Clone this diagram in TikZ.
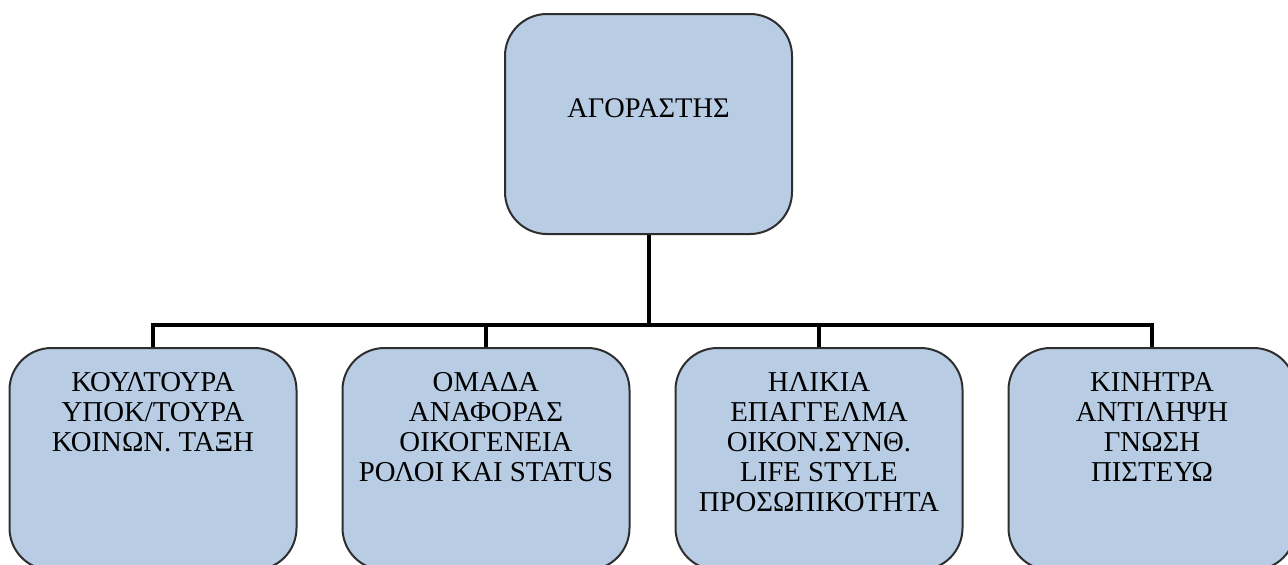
\documentclass[tikz,border=0pt]{standalone}
\usepackage{fontspec}
\setmainfont{Liberation Serif}
\usepackage{xcolor}
\definecolor{boxblue}{HTML}{B8CCE4}
\definecolor{edge}{HTML}{2E2E2E}
\usetikzlibrary{positioning}
\newcommand{\toplines}[1]{\begin{tabular}[t]{@{}c@{}}#1\end{tabular}}
\tikzset{
  box/.style={draw=edge,fill=boxblue,rounded corners=21pt,line width=1pt,
    font=\fontsize{14.4}{15}\selectfont,minimum width=143.5pt,inner xsep=2pt,inner ysep=3pt},
  head/.style={box,anchor=north,font=\fontsize{14.2}{15}\selectfont,text height=48.6pt,text depth=55.4pt},
  leaf/.style={box,anchor=north,text height=18.6pt,text depth=86.4pt},
  tree/.style={draw=black,line width=2pt},
}
\begin{document}
\begin{tikzpicture}[node distance=5mm and 22pt]
  \fill[white] (0,0) rectangle (644pt,-282pt);
  \useasboundingbox (0,0) rectangle (644pt,-282pt);
  \node[head] (buyer) at (324.25pt,-6.5pt) {ΑΓΟΡΑΣΤΗΣ};
  \node[leaf] (culture) at (76.5pt,-173.5pt) {\toplines{ΚΟΥΛΤΟΥΡΑ\\ΥΠΟΚ/ΤΟΥΡΑ\\ΚΟΙΝΩΝ. ΤΑΞΗ}};
  \node[leaf,right=of culture] (group) {\toplines{ΟΜΑΔΑ\\ΑΝΑΦΟΡΑΣ\\ΟΙΚΟΓΕΝΕΙΑ\\ΡΟΛΟΙ ΚΑΙ STATUS}};
  \node[leaf,right=of group] (person) {\toplines{ΗΛΙΚΙΑ\\ΕΠΑΓΓΕΛΜΑ\\ΟΙΚΟΝ.ΣΥΝΘ.\\LIFE STYLE\\ΠΡΟΣΩΠΙΚΟΤΗΤΑ}};
  \node[leaf,right=of person] (psych) {\toplines{ΚΙΝΗΤΡΑ\\ΑΝΤΙΛΗΨΗ\\ΓΝΩΣΗ\\ΠΙΣΤΕΥΩ}};
  \draw[tree] (buyer.south) -- ++(0,-45pt) coordinate (bus);
  \draw[tree] (culture.north) |- (bus) -| (psych.north);
  \draw[tree] (group.north |- bus) -- (group.north);
  \draw[tree] (person.north |- bus) -- (person.north);
\end{tikzpicture}
\end{document}
